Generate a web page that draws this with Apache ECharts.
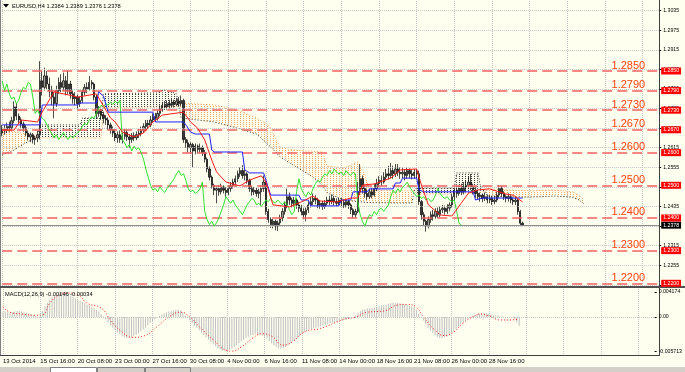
<!DOCTYPE html>
<html><head><meta charset="utf-8">
<script src="https://cdn.jsdelivr.net/npm/echarts@6/dist/echarts.min.js"></script>
<style>html,body{margin:0;padding:0;background:#fffff0}#c{width:685px;height:372px}</style>
</head><body><div id="c"></div>
<script>
const symbolName = 'EURUSD,H4';
const macdName = 'MACD(12,26,9)';
const dateLabels = ['13 Oct 2014','15 Oct 16:00','20 Oct 08:00','23 Oct 00:00','27 Oct 16:00','30 Oct 08:00','4 Nov 00:00','6 Nov 16:00','11 Nov 08:00','14 Nov 00:00','18 Nov 16:00','21 Nov 08:00','26 Nov 00:00','28 Nov 16:00'];
const barsPerLabel = 16;
const slotCount = 280;
const priceTicks = [1.3035,1.2975,1.2915,1.2855,1.2795,1.2735,1.2675,1.2615,1.2555,1.2495,1.2435,1.2375,1.2315,1.2255,1.2195];
const levels = [1.2850,1.2790,1.2730,1.2670,1.2600,1.2500,1.2400,1.2300,1.2200];
const macdTicks = [0.004174, 0, -0.005713];
const macdTickLabels = ['0.004174','0.00','-0.005713'];

// H4 candles: [open, close, low, high]
const candles = [
[1.2660,1.2672,1.2650,1.2685],[1.2672,1.2668,1.2655,1.2684],[1.2668,1.2680,1.2660,1.2692],[1.2680,1.2676,1.2664,1.2695],
[1.2676,1.2698,1.2670,1.2710],[1.2698,1.2740,1.2690,1.2757],[1.2740,1.2712,1.2700,1.2752],[1.2712,1.2700,1.2688,1.2720],
[1.2700,1.2688,1.2676,1.2708],[1.2688,1.2676,1.2664,1.2695],[1.2676,1.2660,1.2650,1.2684],[1.2660,1.2648,1.2638,1.2668],
[1.2648,1.2655,1.2632,1.2662],[1.2655,1.2640,1.2628,1.2660],[1.2640,1.2645,1.2624,1.2652],[1.2645,1.2655,1.2632,1.2668],
[1.2655,1.2820,1.2640,1.2880],[1.2820,1.2800,1.2775,1.2850],[1.2800,1.2835,1.2790,1.2860],[1.2835,1.2810,1.2795,1.2850],
[1.2810,1.2790,1.2770,1.2830],[1.2790,1.2770,1.2745,1.2805],[1.2770,1.2750,1.2705,1.2785],[1.2750,1.2790,1.2740,1.2805],
[1.2790,1.2815,1.2780,1.2830],[1.2815,1.2800,1.2785,1.2840],[1.2800,1.2820,1.2790,1.2845],[1.2820,1.2790,1.2775,1.2835],
[1.2790,1.2810,1.2780,1.2850],[1.2810,1.2780,1.2765,1.2820],[1.2780,1.2765,1.2750,1.2790],[1.2765,1.2770,1.2745,1.2785],
[1.2770,1.2750,1.2735,1.2778],[1.2750,1.2760,1.2740,1.2772],[1.2760,1.2785,1.2752,1.2795],[1.2785,1.2800,1.2775,1.2810],
[1.2800,1.2795,1.2782,1.2815],[1.2795,1.2815,1.2790,1.2835],[1.2815,1.2810,1.2795,1.2822],[1.2810,1.2770,1.2760,1.2815],
[1.2770,1.2720,1.2705,1.2778],[1.2720,1.2730,1.2710,1.2742],[1.2730,1.2715,1.2700,1.2738],[1.2715,1.2705,1.2690,1.2725],
[1.2705,1.2700,1.2685,1.2715],[1.2700,1.2685,1.2670,1.2708],[1.2685,1.2670,1.2658,1.2692],[1.2670,1.2660,1.2648,1.2680],
[1.2660,1.2645,1.2635,1.2672],[1.2645,1.2655,1.2630,1.2665],[1.2655,1.2640,1.2630,1.2668],[1.2640,1.2650,1.2628,1.2660],
[1.2650,1.2662,1.2640,1.2672],[1.2662,1.2648,1.2636,1.2670],[1.2648,1.2640,1.2615,1.2656],[1.2640,1.2652,1.2630,1.2660],
[1.2652,1.2645,1.2635,1.2662],[1.2645,1.2655,1.2638,1.2665],[1.2655,1.2660,1.2645,1.2672],[1.2660,1.2668,1.2650,1.2680],
[1.2668,1.2680,1.2660,1.2690],[1.2680,1.2690,1.2670,1.2700],[1.2690,1.2685,1.2672,1.2700],[1.2685,1.2700,1.2678,1.2712],
[1.2700,1.2710,1.2692,1.2720],[1.2710,1.2705,1.2695,1.2722],[1.2705,1.2720,1.2698,1.2730],[1.2720,1.2735,1.2712,1.2745],
[1.2735,1.2745,1.2725,1.2755],[1.2745,1.2740,1.2730,1.2758],[1.2740,1.2750,1.2732,1.2760],[1.2750,1.2745,1.2735,1.2762],
[1.2745,1.2755,1.2738,1.2765],[1.2755,1.2748,1.2738,1.2762],[1.2748,1.2758,1.2742,1.2768],[1.2758,1.2750,1.2740,1.2770],
[1.2750,1.2760,1.2742,1.2775],[1.2760,1.2640,1.2630,1.2765],[1.2640,1.2630,1.2615,1.2648],[1.2630,1.2615,1.2600,1.2640],
[1.2615,1.2625,1.2600,1.2632],[1.2625,1.2605,1.2555,1.2630],[1.2605,1.2620,1.2595,1.2628],[1.2620,1.2610,1.2598,1.2625],
[1.2610,1.2615,1.2600,1.2628],[1.2615,1.2600,1.2590,1.2622],[1.2600,1.2580,1.2570,1.2608],[1.2580,1.2550,1.2540,1.2585],
[1.2550,1.2525,1.2515,1.2558],[1.2525,1.2500,1.2490,1.2530],[1.2500,1.2485,1.2470,1.2505],[1.2485,1.2490,1.2445,1.2498],
[1.2490,1.2480,1.2468,1.2500],[1.2480,1.2495,1.2472,1.2505],[1.2495,1.2485,1.2475,1.2500],[1.2485,1.2478,1.2465,1.2495],
[1.2478,1.2490,1.2470,1.2500],[1.2490,1.2500,1.2480,1.2510],[1.2500,1.2510,1.2490,1.2520],[1.2510,1.2520,1.2498,1.2530],
[1.2520,1.2535,1.2510,1.2545],[1.2535,1.2545,1.2525,1.2555],[1.2545,1.2530,1.2520,1.2562],[1.2530,1.2535,1.2515,1.2548],
[1.2535,1.2515,1.2505,1.2540],[1.2515,1.2490,1.2480,1.2520],[1.2490,1.2480,1.2468,1.2498],[1.2480,1.2485,1.2470,1.2495],
[1.2485,1.2475,1.2465,1.2492],[1.2475,1.2480,1.2460,1.2490],[1.2480,1.2490,1.2440,1.2500],[1.2490,1.2510,1.2480,1.2530],
[1.2510,1.2420,1.2410,1.2515],[1.2420,1.2395,1.2385,1.2428],[1.2395,1.2380,1.2370,1.2402],[1.2380,1.2390,1.2368,1.2398],
[1.2390,1.2375,1.2362,1.2395],[1.2375,1.2385,1.2360,1.2392],[1.2385,1.2400,1.2375,1.2410],[1.2400,1.2420,1.2390,1.2430],
[1.2420,1.2440,1.2410,1.2450],[1.2440,1.2465,1.2430,1.2490],[1.2465,1.2455,1.2440,1.2478],[1.2455,1.2445,1.2432,1.2462],
[1.2445,1.2455,1.2435,1.2465],[1.2455,1.2440,1.2428,1.2460],[1.2440,1.2430,1.2418,1.2450],[1.2430,1.2420,1.2408,1.2440],
[1.2420,1.2410,1.2398,1.2430],[1.2410,1.2425,1.2390,1.2432],[1.2425,1.2440,1.2415,1.2450],[1.2440,1.2450,1.2432,1.2465],
[1.2450,1.2460,1.2440,1.2475],[1.2460,1.2455,1.2442,1.2470],[1.2455,1.2440,1.2430,1.2462],[1.2440,1.2445,1.2428,1.2455],
[1.2445,1.2435,1.2425,1.2452],[1.2435,1.2445,1.2428,1.2455],[1.2445,1.2455,1.2438,1.2465],[1.2455,1.2450,1.2440,1.2468],
[1.2450,1.2460,1.2442,1.2472],[1.2460,1.2450,1.2438,1.2468],[1.2450,1.2445,1.2435,1.2460],[1.2445,1.2455,1.2438,1.2462],
[1.2455,1.2448,1.2436,1.2462],[1.2448,1.2440,1.2430,1.2455],[1.2440,1.2450,1.2432,1.2458],[1.2450,1.2440,1.2428,1.2456],
[1.2440,1.2425,1.2412,1.2445],[1.2425,1.2410,1.2400,1.2430],[1.2410,1.2420,1.2402,1.2428],[1.2420,1.2480,1.2415,1.2510],
[1.2480,1.2520,1.2470,1.2565],[1.2520,1.2490,1.2475,1.2530],[1.2490,1.2475,1.2462,1.2500],[1.2475,1.2465,1.2455,1.2488],
[1.2465,1.2480,1.2458,1.2490],[1.2480,1.2470,1.2460,1.2492],[1.2470,1.2490,1.2465,1.2505],[1.2490,1.2505,1.2482,1.2520],
[1.2505,1.2515,1.2495,1.2528],[1.2515,1.2510,1.2498,1.2530],[1.2510,1.2525,1.2505,1.2540],[1.2525,1.2535,1.2515,1.2550],
[1.2535,1.2530,1.2518,1.2560],[1.2530,1.2545,1.2522,1.2568],[1.2545,1.2535,1.2520,1.2560],[1.2535,1.2550,1.2525,1.2565],
[1.2550,1.2540,1.2528,1.2565],[1.2540,1.2535,1.2520,1.2555],[1.2535,1.2540,1.2522,1.2555],[1.2540,1.2530,1.2515,1.2550],
[1.2530,1.2545,1.2520,1.2555],[1.2545,1.2535,1.2522,1.2552],[1.2535,1.2530,1.2518,1.2548],[1.2530,1.2540,1.2520,1.2550],
[1.2540,1.2535,1.2522,1.2550],[1.2535,1.2450,1.2440,1.2545],[1.2450,1.2410,1.2395,1.2455],[1.2410,1.2390,1.2375,1.2418],
[1.2390,1.2375,1.2358,1.2395],[1.2375,1.2395,1.2368,1.2405],[1.2395,1.2410,1.2385,1.2420],[1.2410,1.2405,1.2392,1.2425],
[1.2405,1.2420,1.2398,1.2430],[1.2420,1.2410,1.2400,1.2432],[1.2410,1.2425,1.2402,1.2435],[1.2425,1.2430,1.2415,1.2440],
[1.2430,1.2420,1.2410,1.2438],[1.2420,1.2430,1.2412,1.2442],[1.2430,1.2440,1.2420,1.2448],[1.2440,1.2465,1.2432,1.2475],
[1.2465,1.2485,1.2455,1.2495],[1.2485,1.2475,1.2462,1.2498],[1.2475,1.2490,1.2468,1.2500],[1.2490,1.2480,1.2470,1.2505],
[1.2480,1.2495,1.2472,1.2510],[1.2495,1.2500,1.2480,1.2515],[1.2500,1.2510,1.2490,1.2528],[1.2510,1.2495,1.2485,1.2535],
[1.2495,1.2485,1.2472,1.2505],[1.2485,1.2475,1.2462,1.2495],[1.2475,1.2465,1.2455,1.2485],[1.2465,1.2470,1.2450,1.2478],
[1.2470,1.2460,1.2448,1.2475],[1.2460,1.2465,1.2452,1.2478],[1.2465,1.2455,1.2445,1.2472],[1.2455,1.2460,1.2445,1.2470],
[1.2460,1.2450,1.2440,1.2468],[1.2450,1.2455,1.2442,1.2468],[1.2455,1.2470,1.2448,1.2480],[1.2470,1.2490,1.2462,1.2500],
[1.2490,1.2475,1.2465,1.2498],[1.2475,1.2465,1.2455,1.2482],[1.2465,1.2460,1.2448,1.2472],[1.2460,1.2465,1.2450,1.2475],
[1.2465,1.2455,1.2445,1.2470],[1.2455,1.2450,1.2440,1.2462],[1.2450,1.2455,1.2440,1.2465],[1.2455,1.2420,1.2410,1.2460],
[1.2420,1.2384,1.2378,1.2425],[1.2384,1.2378,1.2376,1.2389]
];

// Ichimoku lines: [barIndex, price]
const tenkan = [[0,1.2669],[5,1.2669],[8,1.2700],[15,1.2694],[17,1.2724],[22,1.2786],[28,1.2777],[32,1.2770],[40,1.2780],[46,1.2706],[48,1.2694],[51,1.2663],[56,1.2648],[60,1.2660],[64,1.2694],[68,1.2715],[77,1.2724],[80,1.2694],[83,1.2675],[86,1.2639],[89,1.2577],[91,1.2541],[95,1.2510],[101,1.2498],[105,1.2516],[110,1.2529],[112,1.2510],[115,1.2440],[122,1.2434],[127,1.2449],[132,1.2467],[135,1.2452],[142,1.2449],[148,1.2461],[151,1.2461],[153,1.2501],[158,1.2504],[165,1.2522],[169,1.2547],[176,1.2550],[178,1.2501],[181,1.2440],[186,1.2409],[191,1.2406],[195,1.2446],[198,1.2476],[202,1.2486],[207,1.2489],[214,1.2473],[217,1.2470],[221,1.2449]];
const kijun = [[0,1.2685],[16,1.2685],[17,1.2746],[32,1.2746],[33,1.2752],[40,1.2752],[41,1.2786],[43,1.2773],[45,1.2724],[64,1.2724],[65,1.2694],[77,1.2694],[78,1.2685],[80,1.2663],[82,1.2657],[88,1.2657],[89,1.2608],[90,1.2602],[102,1.2602],[103,1.2547],[105,1.2538],[111,1.2538],[112,1.2516],[114,1.2470],[126,1.2470],[127,1.2455],[130,1.2455],[131,1.2437],[143,1.2437],[144,1.2455],[148,1.2455],[149,1.2480],[155,1.2480],[156,1.2489],[166,1.2489],[167,1.2507],[169,1.2507],[170,1.2522],[176,1.2522],[177,1.2486],[179,1.2480],[200,1.2480],[201,1.2455],[204,1.2461],[221,1.2461]];
const cloudIdx = [0,5,10,15,16,33,34,42,43,66,68,72,74,75,76,90,100,108,110,112,114,118,124,127,132,136,138,145,151,154,156,167,174,175,176,192,193,202,203,205,206,215,225,235,242,245,247];
const spanA = [1.2663,1.2665,1.2657,1.2648,1.2645,1.2645,1.2645,1.2645,1.2737,1.2740,1.2740,1.2740,1.2740,1.2745,1.2752,1.2746,1.2731,1.2706,1.2697,1.2690,1.2675,1.2617,1.2608,1.2606,1.2604,1.2602,1.2559,1.2553,1.2571,1.2532,1.2486,1.2483,1.2483,1.2484,1.2473,1.2473,1.2477,1.2477,1.2478,1.2482,1.2489,1.2486,1.2483,1.2486,1.2480,1.2470,1.2455];
const spanB = [1.2593,1.2608,1.2630,1.2648,1.2685,1.2685,1.2706,1.2706,1.2780,1.2783,1.2792,1.2786,1.2780,1.2745,1.2706,1.2694,1.2675,1.2657,1.2645,1.2630,1.2618,1.2587,1.2560,1.2547,1.2525,1.2500,1.2477,1.2455,1.2450,1.2448,1.2447,1.2446,1.2446,1.2484,1.2492,1.2492,1.2538,1.2538,1.2501,1.2482,1.2467,1.2464,1.2464,1.2467,1.2464,1.2455,1.2443];
const chikouShift = 26;

// MACD histogram (one value per bar) and signal line points
const macdHist = [
0.0008,0.0009,0.0008,0.0007,0.0008,0.0009,
0.0010,0.0010,0.0009,0.0008,0.0007,0.0006,0.0005,
0.0003,0.0002,0.0001,0.0003,
0.0010,0.0018,0.0024,0.0029,0.0033,0.0035,
0.0037,0.0039,0.0042,0.0041,0.0039,0.0038,0.0036,0.0033,
0.0031,0.0029,0.0027,0.0025,0.0023,0.0021,0.0019,0.0017,0.0015,
0.0012,0.0009,0.0005,0.0001,-0.0004,-0.0009,
-0.0014,-0.0018,-0.0022,-0.0026,-0.0029,-0.0032,-0.0034,-0.0035,-0.0035,-0.0034,-0.0032,
-0.0030,-0.0027,-0.0024,-0.0021,-0.0018,-0.0014,-0.0010,-0.0007,-0.0004,-0.0001,0.0002,
0.0004,0.0006,0.0008,0.0009,0.0010,0.0011,0.0012,0.0012,0.0011,0.0008,0.0003,
-0.0002,-0.0006,-0.0010,-0.0014,-0.0018,-0.0022,
-0.0026,-0.0030,-0.0034,-0.0038,-0.0042,-0.0046,-0.0049,-0.0052,-0.0054,-0.0056,-0.0057,-0.0057,
-0.0055,-0.0053,-0.0050,-0.0047,-0.0044,-0.0041,-0.0038,-0.0035,-0.0033,-0.0031,-0.0030,
-0.0029,-0.0029,-0.0030,-0.0031,-0.0033,-0.0036,
-0.0040,-0.0044,-0.0047,-0.0050,-0.0052,-0.0053,-0.0052,-0.0050,
-0.0047,-0.0044,-0.0041,-0.0038,-0.0035,-0.0032,-0.0029,-0.0026,-0.0023,
-0.0021,-0.0020,-0.0019,-0.0018,-0.0017,-0.0015,-0.0014,-0.0013,-0.0012,-0.0011,-0.0010,-0.0009,-0.0008,-0.0007,-0.0006,-0.0005,-0.0004,
-0.0003,-0.0002,0.0000,0.0003,0.0007,0.0010,0.0012,0.0013,0.0014,0.0014,0.0015,0.0016,0.0017,
0.0018,0.0019,0.0020,0.0021,0.0022,0.0023,0.0024,0.0024,0.0024,0.0023,0.0022,0.0021,0.0020,0.0019,0.0018,0.0016,
0.0012,0.0006,0.0000,-0.0006,-0.0012,-0.0018,-0.0023,-0.0027,-0.0030,-0.0033,-0.0035,-0.0035,-0.0034,-0.0033,
-0.0031,-0.0028,-0.0024,-0.0020,-0.0016,-0.0012,-0.0009,-0.0006,-0.0003,-0.0001,
0.0001,0.0003,0.0005,0.0006,0.0007,0.0007,0.0006,0.0005,
0.0004,0.0003,0.0003,0.0002,0.0001,0.0001,0.0000,-0.0001,0.0000,-0.0001,-0.0003,-0.0009,-0.00146
];
const macdSignal = [[0,0.0017],[3,0.0008],[8,0.0005],[13,0.0003],[17,0.0004],[20,0.0023],[24,0.0037],[27,0.0040],[32,0.0037],[36,0.0023],[42,0.0015],[46,-0.0005],[50,-0.0022],[56,-0.0034],[60,-0.0032],[66,-0.0016],[71,0.0000],[76,0.0008],[80,0.0000],[84,-0.0016],[90,-0.0038],[96,-0.0056],[98,-0.0057],[102,-0.0050],[107,-0.0035],[111,-0.0028],[115,-0.0032],[120,-0.0047],[124,-0.0041],[129,-0.0025],[136,-0.0019],[146,-0.0004],[151,0.0000],[156,0.0008],[163,0.0010],[169,0.0020],[173,0.0021],[177,0.0016],[180,0.0000],[185,-0.0022],[189,-0.0031],[193,-0.0025],[197,-0.0010],[202,0.0002],[204,0.0005],[208,0.0002],[213,-0.0005],[217,-0.0005],[221,-0.00034]];

// ---------- build ----------
const categories = Array.from({length: slotCount}, (_, i) => String(i));
const lastBar = candles[candles.length - 1];
const chikou = candles.slice(chikouShift).map((d, i) => [i, d[1]]);
const cloudSegs = cloudIdx.slice(0, -1).map((x, k) => [x, cloudIdx[k + 1], spanA[k], spanA[k + 1], spanB[k], spanB[k + 1]]);
function dots(color) {
  const c = document.createElement('canvas'); c.width = 3; c.height = 2;
  const g = c.getContext('2d'); g.fillStyle = color; g.fillRect(0, 0, 1, 1);
  return { type: 'pattern', image: c, repeat: 'repeat' };
}
const upPat = dots('#f3a85c');
const dnPat = dots('#3a3a3a');
const F = 'Liberation Sans, Arial, sans-serif';
const gridLine = { color: '#c4c4c4', type: 'dotted', width: 1 };
const isLabelIdx = (i) => i % barsPerLabel === 0;

const chart = echarts.init(document.getElementById('c'), null, { width: 685, height: 372 });
chart.setOption({
  animation: false,
  backgroundColor: '#fffff0',
  title: [
    { text: symbolName + ' ' + [lastBar[0], lastBar[3], lastBar[2], lastBar[1]].map(v => v.toFixed(4)).join(' '),
      left: 12, top: 3, padding: 0, textStyle: { fontSize: 5.7, fontWeight: 'normal', color: '#000', fontFamily: F } },
    { text: macdName + ' ' + macdHist[macdHist.length - 1].toFixed(5) + ' ' + macdSignal[macdSignal.length - 1][1].toFixed(5),
      left: 5, top: 291, padding: 0, textStyle: { fontSize: 5.7, fontWeight: 'normal', color: '#000', fontFamily: F } }
  ],
  grid: [
    { left: 2.2, top: 1, width: 657, height: 285 },
    { left: 2.2, top: 289, width: 657, height: 66 }
  ],
  xAxis: [
    { type: 'category', gridIndex: 0, data: categories, boundaryGap: false,
      axisLine: { show: false }, axisTick: { show: false }, axisLabel: { show: false },
      splitLine: { show: true, interval: isLabelIdx, lineStyle: gridLine } },
    { type: 'category', gridIndex: 1, data: categories, boundaryGap: false,
      axisLine: { show: false }, axisTick: { show: false },
      axisLabel: { show: true, interval: isLabelIdx, align: 'left', margin: 3, fontSize: 6, color: '#000', fontFamily: F,
        formatter: (v, i) => dateLabels[i / barsPerLabel] || '' },
      splitLine: { show: true, interval: isLabelIdx, lineStyle: gridLine } }
  ],
  yAxis: [
    { type: 'value', gridIndex: 0, position: 'right', min: 1.21917, max: 1.30643, scale: true,
      splitLine: { show: false },
      axisLine: { show: false },
      axisTick: { show: true, length: 2, customValues: priceTicks, lineStyle: { color: '#000' } },
      axisLabel: { customValues: priceTicks, margin: 4, fontSize: 5.2, color: '#000', fontFamily: F, formatter: v => v.toFixed(4) } },
    { type: 'value', gridIndex: 1, position: 'right', min: -0.006344, max: 0.004675,
      splitLine: { show: false }, axisLine: { show: false },
      axisTick: { show: true, length: 2, customValues: macdTicks, lineStyle: { color: '#000' } },
      axisLabel: { customValues: macdTicks, margin: 4, fontSize: 5.2, color: '#000', fontFamily: F,
        formatter: v => macdTickLabels[macdTicks.indexOf(v)] !== undefined ? macdTickLabels[macdTicks.indexOf(v)] : '' } }
  ],
  series: [
    { type: 'line', name: 'priceGrid', xAxisIndex: 0, yAxisIndex: 0, data: [], z: 0, silent: true,
      markLine: { symbol: ['none', 'none'], precision: 4, silent: true, animation: false, label: { show: false },
        lineStyle: gridLine, data: priceTicks.map(v => ({ yAxis: v })) } },
    { type: 'custom', name: 'kumo', xAxisIndex: 0, yAxisIndex: 0, data: cloudSegs, z: 1, silent: true, clip: true,
      encode: { x: [0, 1], y: [2, 3, 4, 5] },
      renderItem: (params, api) => {
        const a0 = api.coord([api.value(0), api.value(2)]);
        const a1 = api.coord([api.value(1), api.value(3)]);
        const b1 = api.coord([api.value(1), api.value(5)]);
        const b0 = api.coord([api.value(0), api.value(4)]);
        const up = api.value(2) + api.value(3) >= api.value(4) + api.value(5);
        return { type: 'polygon', shape: { points: [a0, a1, b1, b0] }, style: { fill: up ? upPat : dnPat }, silent: true };
      } },
    { type: 'line', name: 'spanA', xAxisIndex: 0, yAxisIndex: 0, data: cloudIdx.map((x, k) => [x, spanA[k]]), z: 2,
      showSymbol: false, silent: true, lineStyle: { color: '#f4a460', width: 1, type: [1, 2] } },
    { type: 'line', name: 'spanB', xAxisIndex: 0, yAxisIndex: 0, data: cloudIdx.map((x, k) => [x, spanB[k]]), z: 2,
      showSymbol: false, silent: true, lineStyle: { color: '#303030', width: 1, type: [1, 2] } },
    { type: 'line', name: 'levels', xAxisIndex: 0, yAxisIndex: 0, data: [], z: 3, silent: true,
      markLine: { symbol: ['none', 'none'], precision: 4, silent: true, animation: false,
        lineStyle: { color: '#f46060', width: 1.6, type: [10, 5], opacity: 1 },
        label: { show: true, position: 'insideEndTop', distance: [14, 0], color: '#ff4010', fontSize: 11, fontFamily: F,
          formatter: p => Number(p.value).toFixed(4) },
        data: levels.map(v => ({ yAxis: v })) } },
    { type: 'candlestick', name: symbolName, xAxisIndex: 0, yAxisIndex: 0, data: candles, z: 4, barWidth: 1.8, silent: true,
      itemStyle: { color: '#9c9c94', color0: '#383838', borderColor: '#000', borderColor0: '#000', borderWidth: 0.7 } },
    { type: 'line', name: 'chikou', xAxisIndex: 0, yAxisIndex: 0, data: chikou, z: 5, showSymbol: false, silent: true,
      lineStyle: { color: '#30e030', width: 1 } },
    { type: 'line', name: 'kijun', xAxisIndex: 0, yAxisIndex: 0, data: kijun, z: 5, showSymbol: false, silent: true,
      lineStyle: { color: '#2020ff', width: 1 } },
    { type: 'line', name: 'tenkan', xAxisIndex: 0, yAxisIndex: 0, data: tenkan, z: 5, showSymbol: false, silent: true,
      lineStyle: { color: '#ff1a1a', width: 1 } },
    { type: 'line', name: 'bid', xAxisIndex: 0, yAxisIndex: 0, data: [], z: 6, silent: true,
      markLine: { symbol: ['none', 'none'], precision: 4, silent: true, animation: false,
        lineStyle: { color: '#8a8a8a', width: 1, type: 'solid' },
        label: { show: true, position: 'end', distance: 2, backgroundColor: '#000', color: '#fff', fontSize: 5.2, padding: [1, 2, 1, 2], fontFamily: F,
          formatter: p => Number(p.value).toFixed(4) },
        data: [{ yAxis: lastBar[1] }] } },
    { type: 'line', name: 'levelBoxes', xAxisIndex: 0, yAxisIndex: 0, data: [], z: 10, silent: true,
      markLine: { symbol: ['none', 'none'], precision: 4, silent: true, animation: false,
        lineStyle: { color: 'rgba(0,0,0,0)', width: 0 },
        label: { show: true, position: 'end', distance: 2, backgroundColor: '#ff0000', color: '#ffffff', fontSize: 5.2, padding: [1, 2, 1, 2], fontFamily: F,
          formatter: p => Number(p.value).toFixed(4) },
        data: levels.map(v => ({ yAxis: v })) } },
    { type: 'bar', name: 'macd', xAxisIndex: 1, yAxisIndex: 1, data: macdHist, barWidth: 1, z: 2, silent: true,
      itemStyle: { color: '#c0c0c0' },
      markLine: { symbol: ['none', 'none'], silent: true, animation: false, label: { show: false },
        lineStyle: gridLine, data: [{ yAxis: 0 }] } },
    { type: 'line', name: 'signal', xAxisIndex: 1, yAxisIndex: 1, data: macdSignal, smooth: true, z: 3, showSymbol: false, silent: true,
      lineStyle: { color: '#ff2020', width: 1, type: [1, 2] } }
  ],
  graphic: [
    { type: 'polygon', shape: { points: [[3, 4], [9, 4], [6, 7.5]] }, style: { fill: '#000' }, silent: true },
    { type: 'line', shape: { x1: 659.5, y1: 0, x2: 659.5, y2: 356 }, style: { stroke: '#404040', lineWidth: 1 }, silent: true },
    { type: 'line', shape: { x1: 0.5, y1: 0, x2: 0.5, y2: 356 }, style: { stroke: '#808080', lineWidth: 1 }, silent: true },
    { type: 'rect', shape: { x: 0, y: 286, width: 685, height: 2 }, style: { fill: '#505050' }, silent: true },
    { type: 'line', shape: { x1: 0, y1: 355.5, x2: 660, y2: 355.5 }, style: { stroke: '#404040', lineWidth: 1 }, silent: true },
    { type: 'rect', shape: { x: 0, y: 367, width: 685, height: 5 }, style: { fill: '#d4d0c8' }, silent: true },
    { type: 'rect', shape: { x: 50.5, y: 367.5, width: 46, height: 5 }, style: { fill: '#ffffff', stroke: '#808080', lineWidth: 1 }, silent: true },
    { type: 'rect', shape: { x: 97.5, y: 367.5, width: 47, height: 5 }, style: { fill: '#d4d0c8', stroke: '#808080', lineWidth: 1 }, silent: true },
    { type: 'rect', shape: { x: 145.5, y: 367.5, width: 45, height: 5 }, style: { fill: '#d4d0c8', stroke: '#808080', lineWidth: 1 }, silent: true }
  ]
});
</script></body></html>
